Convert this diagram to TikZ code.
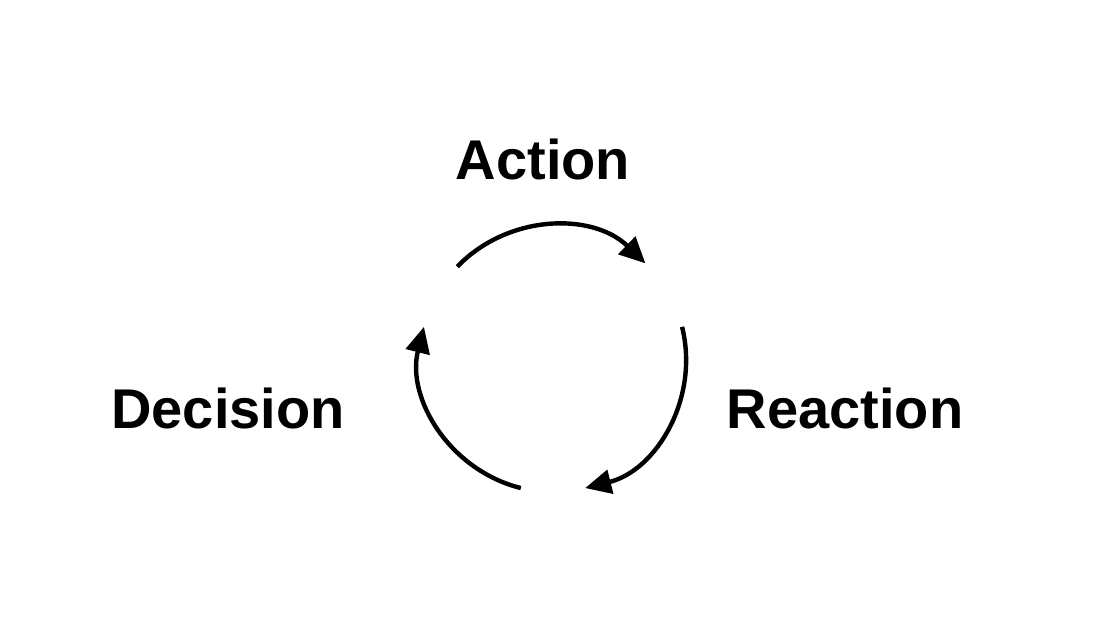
\documentclass[tikz,border=0pt]{standalone}
\usepackage{fontspec}
\setmainfont{Liberation Sans}
\usetikzlibrary{arrows.meta,calc}

\begin{document}
\begin{tikzpicture}[x=1pt,y=1pt,
  steplabel/.style={anchor=base,inner sep=0pt,font=\fontsize{56}{60}\selectfont\bfseries},
  cyclearrow/.style={line width=4.4pt,-{Triangle[length=26pt,width=24pt]}}]
\useasboundingbox (0,0) rectangle (1100,619);
\coordinate (c) at (553,260);
\node[steplabel] (action) at (543,439) {Action};
\node[steplabel] (decision) at (228,191) {Decision};
\node[steplabel] (reaction) at (845,191) {Reaction};
\foreach \a/\n in {136/top,14/right,-104/left}
  \draw[cyclearrow] ($(c)+(\a:133)$) coordinate (\n) arc[start angle=\a, delta angle=-90, radius=133];
\end{tikzpicture}
\end{document}
